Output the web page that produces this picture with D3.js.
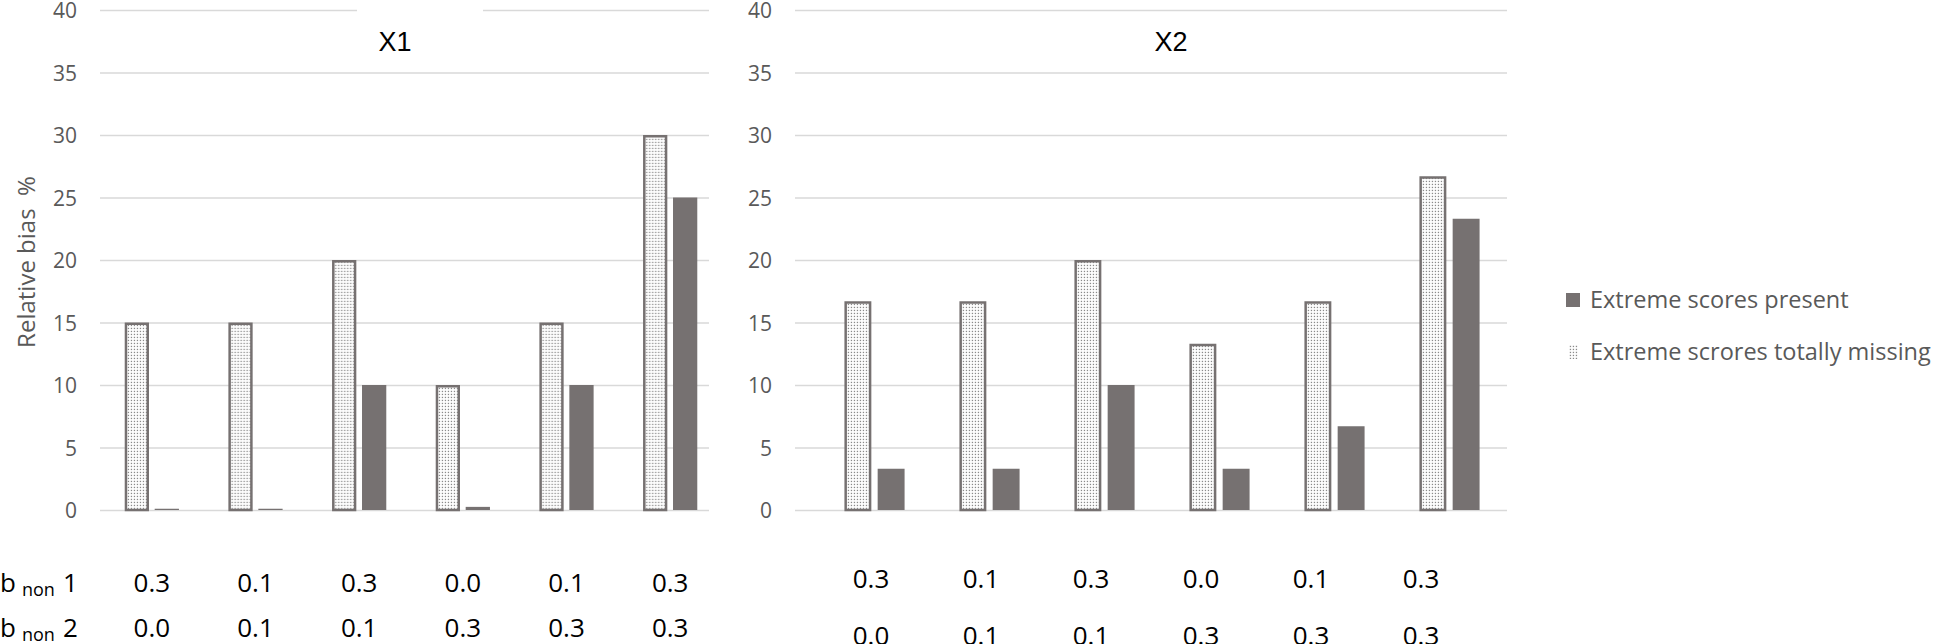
<!DOCTYPE html>
<html>
<head>
<meta charset="utf-8">
<script src="https://cdn.jsdelivr.net/npm/d3@7"></script>
<style>
  body { margin: 0; background: #fff; }
  svg { display: block; font-family: "Open Sans", sans-serif; }
</style>
</head>
<body>
<div id="chart"></div>
<script>
// table under the bars
const bNon1 = ["0.3", "0.1", "0.3", "0.0", "0.1", "0.3"];
const bNon2 = ["0.0", "0.1", "0.1", "0.3", "0.3", "0.3"];
const categories = bNon1.map(function(b, i) { return b + "/" + bNon2[i]; });

// relative bias %
const x1Missing = [15, 15, 20, 10, 15, 30];
const x1Present = [0.1, 0.1, 10, 0.25, 10, 25];
const x2Missing = [16.7, 16.7, 20, 13.3, 16.7, 26.7];
const x2Present = [3.3, 3.3, 10, 3.3, 6.7, 23.3];

const yTicks = [0, 5, 10, 15, 20, 25, 30, 35, 40];
const seriesKeys = ["missing", "present"];
const legendLabels = ["Extreme scores present", "Extreme scrores totally missing"];

const width = 1946, height = 644;
const grey = "#767171";
const textGrey = "#595959";

let svg = d3.select("#chart").append("svg")
    .attr("width", width)
    .attr("height", height);

// dotted fill used by the "missing" bars
let pat = svg.append("defs").append("pattern")
    .attr("id", "dots")
    .attr("patternUnits", "userSpaceOnUse")
    .attr("width", 3).attr("height", 3);
pat.append("rect").attr("width", 3).attr("height", 3).attr("fill", "#fff");
pat.append("rect").attr("x", 0.8).attr("y", 0.8).attr("width", 1.3).attr("height", 1.3).attr("fill", "#8a8a8a");

let y = d3.scaleLinear().domain([0, 40]).range([510, 10]);

function drawPanel(cfg) {
    let g = svg.append("g");
    let x0 = d3.scaleBand().domain(categories).range(cfg.barRange);
    let xs = d3.scaleBand().domain(seriesKeys)
        .range([0, x0.bandwidth()])
        .paddingInner(0.19)
        .paddingOuter(0.825);

    // gridlines + tick labels
    let axis = g.append("g")
        .attr("transform", "translate(" + cfg.gridRange[0] + ",0)")
        .call(d3.axisLeft(y).tickValues(yTicks)
            .tickSize(-(cfg.gridRange[1] - cfg.gridRange[0]))
            .tickPadding(23));
    axis.select(".domain").remove();
    axis.selectAll(".tick line").attr("stroke", "#d9d9d9").attr("stroke-width", 1.5);
    axis.selectAll(".tick text")
        .attr("fill", textGrey)
        .attr("font-size", 21)
        .attr("dy", "0.38em")
        .attr("font-family", "Open Sans, sans-serif");

    // title (left one sits on a white box that cuts the top gridline)
    if (cfg.titleBox) {
        g.append("rect")
            .attr("x", cfg.titleBox[0]).attr("y", 2)
            .attr("width", cfg.titleBox[1] - cfg.titleBox[0]).attr("height", 60)
            .attr("fill", "#fff");
    }
    g.append("text")
        .attr("x", cfg.titleX).attr("y", 51)
        .attr("text-anchor", "middle")
        .attr("font-family", "Liberation Sans, Arial, sans-serif")
        .attr("font-size", 27)
        .attr("fill", "#000")
        .text(cfg.title);

    let rows = categories.map(function(c, i) {
        return {cat: c, missing: cfg.missing[i], present: cfg.present[i]};
    });

    let grp = g.selectAll(".grp")
        .data(rows)
        .enter().append("g")
        .attr("class", "grp")
        .attr("transform", function(d) { return "translate(" + x0(d.cat) + ",0)"; });

    grp.append("rect")
        .attr("x", xs("missing") + 1.25)
        .attr("y", function(d) { return y(d.missing) + 1.25; })
        .attr("width", xs.bandwidth() - 2.5)
        .attr("height", function(d) { return y(0) - y(d.missing) - 1.25; })
        .attr("fill", "url(#dots)")
        .attr("stroke", grey)
        .attr("stroke-width", 2.5);

    grp.append("rect")
        .attr("x", xs("present"))
        .attr("y", function(d) { return y(d.present); })
        .attr("width", xs.bandwidth())
        .attr("height", function(d) { return y(0) - y(d.present); })
        .attr("fill", grey);

    // b non values under the chart
    let lx = d3.scaleBand().domain(categories).range(cfg.labelRange);
    [bNon1, bNon2].forEach(function(vals, r) {
        g.selectAll(".lab" + r)
            .data(vals)
            .enter().append("text")
            .attr("class", "lab" + r)
            .attr("x", function(d, i) { return lx(categories[i]) + lx.bandwidth() / 2; })
            .attr("y", cfg.rowY[r])
            .attr("text-anchor", "middle")
            .attr("font-size", 26)
            .attr("fill", "#000")
            .text(function(d) { return d; });
    });
}

drawPanel({
    title: "X1", titleX: 395, titleBox: [357, 483],
    missing: x1Missing, present: x1Present,
    gridRange: [100, 709], barRange: [100, 722],
    labelRange: [100, 722], rowY: [592, 637]
});
drawPanel({
    title: "X2", titleX: 1171,
    missing: x2Missing, present: x2Present,
    gridRange: [795, 1507], barRange: [817, 1507],
    labelRange: [816, 1476], rowY: [588, 645]
});

// y axis title
svg.append("text")
    .attr("transform", "translate(35,262) rotate(-90)")
    .attr("text-anchor", "middle")
    .attr("font-size", 24)
    .attr("fill", textGrey)
    .style("white-space", "pre")
    .text("Relative bias  %");

// row headers "b non 1" / "b non 2"
[592, 637].forEach(function(yy, r) {
    let t = svg.append("text").attr("y", yy).attr("fill", "#000").attr("font-size", 26);
    t.append("tspan").attr("x", 0).text("b");
    t.append("tspan").attr("x", 22).attr("dy", 4).attr("font-size", 18).text("non");
    t.append("tspan").attr("x", 63).attr("dy", -4).text(r + 1);
});

// legend
let legend = svg.append("g").attr("transform", "translate(1566,0)");
legend.append("rect").attr("x", 0).attr("y", 293).attr("width", 14).attr("height", 14).attr("fill", grey);
legend.append("rect").attr("x", 3).attr("y", 345).attr("width", 9).attr("height", 14).attr("fill", "url(#dots)");
legend.selectAll(".leg")
    .data(legendLabels)
    .enter().append("text")
    .attr("class", "leg")
    .attr("x", 24)
    .attr("y", function(d, i) { return i === 0 ? 300 : 352; })
    .attr("dy", "0.35em")
    .attr("font-size", 23.5)
    .attr("fill", textGrey)
    .text(function(d) { return d; });
</script>
</body>
</html>
